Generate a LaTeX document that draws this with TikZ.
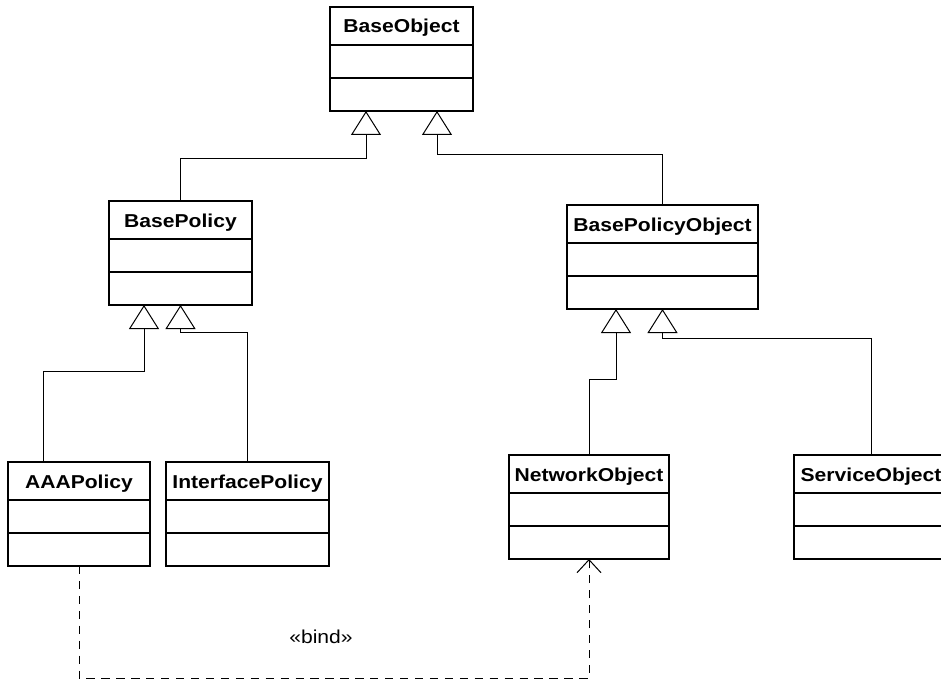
\documentclass[tikz,border=0pt]{standalone}
\usepackage{fontspec}
\newfontfamily\umlfont[FakeStretch=1.13]{Liberation Sans}
\usetikzlibrary{positioning, calc, arrows.meta}
\tikzset{
	cls/.style={draw, line width=1.5pt, anchor=north west, outer sep=0pt, inner sep=0pt,
		minimum width=#1*0.75pt, text height=19.5pt, text depth=58.5pt,
		font=\umlfont\bfseries\fontsize{14}{16}\selectfont,
		path picture={
			\draw[line width=1.5pt] ([yshift=-28.5pt]path picture bounding box.north west) -- ([yshift=-28.5pt]path picture bounding box.north east);
			\draw[line width=1.5pt] ([yshift=-53.25pt]path picture bounding box.north west) -- ([yshift=-53.25pt]path picture bounding box.north east);
		}},
	gen/.style={line width=0.75pt, -{Triangle[open, length=18pt, width=22.5pt]}},
	dep/.style={line width=0.75pt, dash pattern=on 6.2pt off 5pt, -{Straight Barb[length=9.75pt, width=18pt]}},
	lbl/.style={font=\umlfont\fontsize{14}{16}\selectfont},
}

\begin{document}
\begin{tikzpicture}[x=0.75pt, y=-0.75pt]
		\useasboundingbox (0, 0) rectangle (941, 681);
		\clip (0, 0) rectangle (941, 681);
		\node[cls=143] (bo) at (330, 7) {BaseObject};
		\node[cls=143] (bp) at (109, 201) {BasePolicy};
		\node[cls=191] (bpo) at (567, 205) {BasePolicyObject};
		\node[cls=142] (aaa) at (8, 462) {AAAPolicy};
		\node[cls=163] (ip) at (166, 462) {InterfacePolicy};
		\node[cls=160] (no) at (509, 455) {NetworkObject};
		\node[cls=154] (so) at (794, 455) {ServiceObject};
		
		\draw[gen] (bp.north) |- ($(bo.south) + (-35.5, 47)$) -- ($(bo.south) + (-35.5, 0)$);
		\draw[gen] (bpo.north) |- ($(bo.south) + (35.5, 43)$) -- ($(bo.south) + (35.5, 0)$);
		
		\draw[gen] ($(aaa.north) + (-36, 0)$) |- ($(bp.south) + (-36.5, 66)$) -- ($(bp.south) + (-36.5, 0)$);
		\draw[gen] (ip.north) |- ($(bp.south) + (0, 27)$) -- (bp.south);
		
		\draw[gen] (no.north) |- ($(bpo.south) + (-46.5, 70)$) -- ($(bpo.south) + (-46.5, 0)$);
		\draw[gen] (so.north) |- ($(bpo.south) + (0, 29)$) -- (bpo.south);
		
		\draw[dep] (aaa.south) |- ($(no.south) + (0, 119)$) -- (no.south);
		\node[lbl] (bind) at (321, 637) {«bind»};
	\end{tikzpicture}
\end{document}
